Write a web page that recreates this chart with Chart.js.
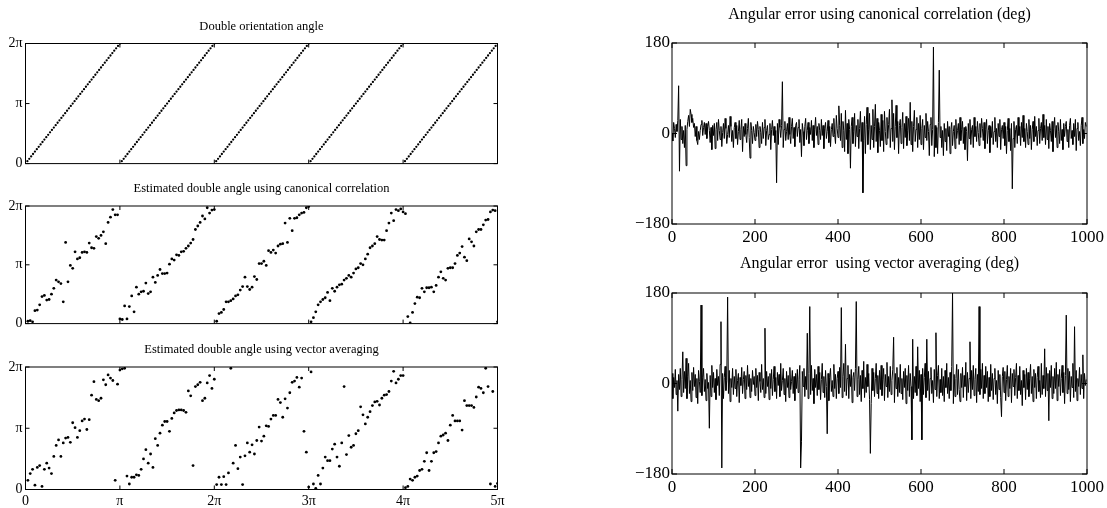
<!DOCTYPE html>
<html>
<head>
<meta charset="utf-8">
<script src="https://cdn.jsdelivr.net/npm/chart.js@4.4.1/dist/chart.umd.min.js"></script>
<style>
  body { margin: 0; background: #fff; }
  canvas { position: absolute; }
</style>
</head>
<body>
<canvas id="p1" width="510" height="175" style="left:0;top:0"></canvas>
<canvas id="p2" width="510" height="160" style="left:0;top:175px"></canvas>
<canvas id="p3" width="510" height="173" style="left:0;top:335px"></canvas>
<canvas id="p4" width="507" height="250" style="left:600px;top:0"></canvas>
<canvas id="p5" width="507" height="258" style="left:600px;top:250px"></canvas>
<script>
// angles are in units of pi, one sample every pi/50 (true) or pi/40 (estimates)
const trueAngle = [
  .04,.08,.12,.16,.2,.24,.28,.32,.36,.4,.44,.48,.52,.56,.6,.64,.68,.72,.76,.8,.84,.88,.92,.96,1,1.04,1.08,1.12,1.16,1.2,1.24,1.28,1.32,1.36,1.4,1.44,1.48,1.52,1.56,1.6,1.64,1.68,1.72,1.76,1.8,1.84,1.88,1.92,1.96,2,
  .04,.08,.12,.16,.2,.24,.28,.32,.36,.4,.44,.48,.52,.56,.6,.64,.68,.72,.76,.8,.84,.88,.92,.96,1,1.04,1.08,1.12,1.16,1.2,1.24,1.28,1.32,1.36,1.4,1.44,1.48,1.52,1.56,1.6,1.64,1.68,1.72,1.76,1.8,1.84,1.88,1.92,1.96,2,
  .04,.08,.12,.16,.2,.24,.28,.32,.36,.4,.44,.48,.52,.56,.6,.64,.68,.72,.76,.8,.84,.88,.92,.96,1,1.04,1.08,1.12,1.16,1.2,1.24,1.28,1.32,1.36,1.4,1.44,1.48,1.52,1.56,1.6,1.64,1.68,1.72,1.76,1.8,1.84,1.88,1.92,1.96,2,
  .04,.08,.12,.16,.2,.24,.28,.32,.36,.4,.44,.48,.52,.56,.6,.64,.68,.72,.76,.8,.84,.88,.92,.96,1,1.04,1.08,1.12,1.16,1.2,1.24,1.28,1.32,1.36,1.4,1.44,1.48,1.52,1.56,1.6,1.64,1.68,1.72,1.76,1.8,1.84,1.88,1.92,1.96,2,
  .04,.08,.12,.16,.2,.24,.28,.32,.36,.4,.44,.48,.52,.56,.6,.64,.68,.72,.76,.8,.84,.88,.92,.96,1,1.04,1.08,1.12,1.16,1.2,1.24,1.28,1.32,1.36,1.4,1.44,1.48,1.52,1.56,1.6,1.64,1.68,1.72,1.76,1.8,1.84,1.88,1.92,1.96,2
];
const canonAngle = [
  .04,.05,.03,.22,.23,.32,.46,.48,.40,.41,.50,.60,.74,.71,.68,.37,1.38,.71,.99,.94,1.22,1.10,1.12,1.21,1.22,1.21,1.37,1.29,1.28,1.48,1.45,1.50,1.56,1.36,1.72,1.81,1.94,1.85,1.85,.08,
  .07,.30,.08,.29,.47,.20,.62,.50,.54,.55,.69,.51,.54,.79,.70,.82,.92,.85,.85,.86,1.01,1.10,1.08,1.17,1.16,1.22,1.23,1.28,1.32,1.37,1.43,1.60,1.66,1.72,1.83,1.78,1.97,1.88,1.93,1.94,
  .04,.17,.19,.24,.37,.37,.39,.42,.47,.49,.57,.63,.79,.63,.58,.62,.80,.75,1.02,1.02,1.06,.99,1.24,1.21,1.25,1.20,1.32,1.35,1.36,1.71,1.38,1.79,1.58,1.79,1.80,1.85,1.88,1.89,1.97,1.99,
  .03,.10,.20,.32,.37,.41,.44,.53,.39,.60,.55,.62,.66,.67,.74,.77,.82,.79,.86,.93,.95,1.02,1.00,1.10,1.18,1.29,1.32,1.36,1.48,1.43,1.42,1.42,1.58,1.71,1.88,1.75,1.94,1.92,1.95,1.90,
  1.87,.12,.01,.19,.34,.45,.44,.60,.54,.61,.61,.62,.54,.65,.79,.88,.77,.74,.94,.95,.95,1.02,1.16,1.20,1.31,1.13,1.07,1.44,1.39,1.32,1.56,1.60,1.60,1.68,1.76,1.77,1.90,1.93,1.92,.03
];
const vectorAngle = [
  .15,.26,.33,.07,.36,.39,.05,.33,.43,.35,.26,.54,.72,.81,.54,.76,.84,.85,.77,1.09,1.01,.85,.96,1.12,1.15,.98,1.14,1.54,1.76,1.47,1.45,1.49,1.79,1.71,1.87,1.82,1.78,.15,1.72,1.95,
  1.97,1.98,.22,.09,.20,.20,.24,.23,.33,.50,.65,.43,.58,.36,.83,.72,.92,1.05,1.11,1.11,.95,1.16,1.25,1.29,1.30,1.30,1.29,1.26,1.61,1.53,.39,1.68,1.71,1.75,1.45,1.49,1.74,1.86,1.65,1.80,
  .08,.20,.08,.21,.08,.27,1.98,.43,.72,.34,.53,.08,.55,.76,.61,.73,.58,.80,1.02,.79,.87,1.04,1.03,1.15,1.21,1.21,1.47,1.42,1.18,1.48,1.33,1.58,1.75,1.77,1.83,1.67,1.82,.95,.61,.04,
  1.92,.09,.02,.23,.09,.35,.53,.47,.47,.66,.74,.53,.38,.76,1.68,.57,.88,.69,.72,.91,.96,1.35,1.22,1.07,1.18,1.27,1.37,1.43,1.44,1.38,1.49,1.54,1.55,1.60,1.77,1.93,1.74,1.80,1.86,1.86,
  .03,.05,.17,.15,.20,.22,.31,.33,.46,.60,.31,.46,.60,.62,.76,.87,.89,.92,.80,1.05,1.21,1.12,1.12,1.12,.97,1.45,1.37,1.37,1.37,1.34,1.51,1.67,1.65,1.58,1.98,1.68,.09,1.60,.05,.10
];
const piTickLabels = ['0', 'π', '2π', '3π', '4π', '5π'];

// angular error in degrees, one sample every 2 steps
const errStep = 2;
const canonError = [
  0,-15,22,10,-8,18,4,26,95,-75,28,-12,14,-20,6,-28,16,-64,8,24,36,14,48,38,22,
  30,12,20,-6,14,-14,-22,4,-12,6,18,26,-4,12,22,-2,20,-10,14,24,6,-18,12,-32,16,
  -4,20,-30,8,22,-14,28,6,-12,14,-26,2,20,-10,30,10,-20,-2,16,-8,34,14,-16,6,-28,
  12,22,-10,16,-22,4,26,-12,8,28,-36,14,-6,20,-2,-18,10,30,-8,-49,22,6,-20,14,2,
  -14,18,-6,24,8,-28,14,2,-20,22,-10,12,28,-24,6,16,-12,-2,20,-32,8,26,-4,14,-18,
  6,-98,20,-22,28,12,-8,16,103,-28,8,24,-14,4,20,-12,32,-2,-20,14,30,-10,12,-26,16,
  22,-6,12,28,-18,8,-46,20,4,-24,14,30,-12,6,22,-20,12,-2,26,-14,16,-28,8,32,-4,
  14,-22,20,6,-12,28,-4,16,-30,10,22,-10,4,26,-18,14,-26,8,20,-6,30,-2,-20,36,10,
  -8,55,16,-14,40,-28,24,6,-36,46,-12,20,-40,28,8,-69,14,32,-20,4,40,-26,16,-6,28,
  -30,10,44,-16,22,-118,-14,34,-40,18,52,-22,8,40,-32,16,-12,48,-28,14,58,-16,30,-38,22,
  6,-26,38,-14,26,-36,44,4,-22,32,-10,18,48,-28,10,67,-16,40,-32,14,56,-8,24,-40,16,
  28,-20,12,42,-30,20,-8,34,-24,6,30,-14,62,-22,24,-36,14,46,-16,8,32,-28,20,-12,36,
  -22,10,28,-32,16,-8,40,-14,24,4,-44,18,32,-24,8,172,-46,16,-28,12,-40,22,126,-8,14,
  -28,6,-44,20,-16,10,-34,24,-6,14,-40,8,22,-24,4,16,-30,28,-10,6,20,-22,32,-14,8,
  24,-20,12,-32,14,4,-54,20,-10,28,-22,8,16,-28,32,-6,14,-16,24,2,-24,20,-8,30,10,
  -14,22,-30,8,28,-20,6,16,-38,14,-8,24,-22,4,32,-16,10,-28,20,-6,28,-32,8,16,-10,
  22,-24,14,-40,6,30,-16,10,-34,20,-110,-10,24,-28,8,16,-20,32,-4,14,-24,22,-8,36,-16,
  10,-28,20,4,-22,28,-10,16,-32,8,24,-16,34,-6,14,-24,6,30,-20,10,22,-14,38,-8,16,
  -22,28,-12,14,-30,20,6,-16,24,-36,10,32,-8,16,-28,22,4,-20,28,-14,8,-32,20,-6,14,
  24,-16,8,-28,16,30,-10,6,-22,20,-6,28,-34,10,22,-14,4,-24,16,32,-20,8,-10,22,14
];
const vectorError = [
  20,-30,12,-8,28,-22,6,-55,18,-12,30,-26,8,63,-18,24,-10,50,-30,14,40,-20,6,-36,22,
  -14,32,-6,18,-28,10,-40,26,4,-18,156,-24,12,30,-16,8,-34,20,-10,2,-89,16,-26,36,-8,
  22,-18,10,-32,28,-4,14,-24,38,123,-168,20,-30,12,34,-14,6,172,-20,26,-36,10,-8,30,-22,
  14,-10,28,-26,6,20,-38,12,-4,32,-20,8,24,-30,16,-12,36,-6,18,-28,10,-16,26,-2,14,
  -24,30,-8,16,-34,22,4,-18,38,-12,10,-28,110,-20,24,-6,14,-32,20,-10,28,-24,8,34,-16,
  12,-30,22,-4,18,-26,40,-14,6,30,-22,10,-36,24,-8,16,-28,32,-12,4,26,-20,14,-34,20,
  -10,28,-18,8,36,-168,-116,24,-6,30,-26,14,-12,100,-30,20,153,-22,36,-14,10,-40,28,-8,18,
  -24,34,-12,22,-32,8,40,-18,14,-28,26,-6,-100,20,-34,12,30,-16,6,-26,38,-10,18,-30,10,
  24,-20,32,-8,151,-28,14,40,-16,78,-24,10,36,-30,18,-6,28,-38,12,22,-14,30,163,-26,8,
  34,-22,16,-36,26,-10,44,-28,12,-18,38,-6,20,-32,-139,-40,30,-14,22,-26,10,40,-20,16,-30,
  26,-12,36,-24,8,30,-34,18,-6,42,-28,14,-16,34,-22,6,28,92,-38,20,-10,32,-26,12,-18,
  38,-20,10,-32,24,-8,30,-40,16,-14,36,-26,20,-6,-112,88,-30,14,-18,34,-24,73,-10,26,-36,
  18,-112,30,-22,12,40,-28,88,-14,24,-34,10,32,-20,6,-38,28,-12,101,-26,16,36,-30,8,-18,
  30,-24,14,-36,26,-8,40,-20,12,-30,22,-14,34,180,-40,18,-26,10,38,-22,28,-12,-36,20,-8,
  32,-28,16,-6,42,-34,22,-18,10,83,-30,26,-12,36,-24,8,30,-38,18,-16,153,-22,28,-10,40,
  -30,16,-20,34,-8,24,-36,12,-26,38,-14,20,-32,10,30,-22,6,-40,26,-12,18,-28,-66,14,32,
  -18,24,-34,8,36,-26,14,-10,30,-38,20,-6,28,-24,12,40,-30,16,-14,34,-22,6,-44,26,-8,
  18,-32,30,-12,22,-26,10,38,-20,14,-36,28,-8,20,-30,12,34,-16,6,-28,40,-22,16,-10,69,
  -26,32,-14,20,-74,26,-8,36,-30,14,-20,30,-10,42,-34,18,-6,28,-24,10,36,-18,22,-40,16,
  136,-20,30,-12,24,-36,14,-8,40,-28,113,-16,26,-34,10,-6,32,-22,18,-10,57,-30,20,-4,8
];

const serif = 'Liberation Serif, Times New Roman, serif';

// box round the plot area, inward tick marks on all four sides, and the title
const framePlugin = {
  id: 'frame',
  afterDraw(chart, args, opts) {
    const { ctx, chartArea: a, scales: { x, y } } = chart;
    ctx.save();
    ctx.strokeStyle = '#000';
    ctx.lineWidth = 1;
    ctx.strokeRect(a.left, a.top, a.width, a.height);
    ctx.beginPath();
    x.ticks.forEach(t => {
      const px = x.getPixelForValue(t.value);
      ctx.moveTo(px, a.bottom); ctx.lineTo(px, a.bottom - opts.tick);
      ctx.moveTo(px, a.top); ctx.lineTo(px, a.top + opts.tick);
    });
    y.ticks.forEach(t => {
      const py = y.getPixelForValue(t.value);
      ctx.moveTo(a.left, py); ctx.lineTo(a.left + opts.tick, py);
      ctx.moveTo(a.right, py); ctx.lineTo(a.right - opts.tick, py);
    });
    ctx.stroke();
    ctx.fillStyle = '#000';
    ctx.font = opts.titleSize + 'px ' + serif;
    ctx.textAlign = 'center';
    ctx.textBaseline = 'middle';
    ctx.fillText(opts.title, (a.left + a.right) / 2, opts.titleY);
    ctx.restore();
  }
};

function makeChart(id, cfg) {
  const canvas = document.getElementById(id);
  const W = canvas.width, H = canvas.height;
  return new Chart(canvas, {
    type: cfg.type,
    data: { datasets: [cfg.dataset] },
    plugins: [framePlugin],
    options: {
      responsive: false,
      animation: false,
      events: [],
      layout: { padding: { left: 0, top: cfg.area.top, right: W - cfg.area.right, bottom: 0 } },
      plugins: {
        legend: { display: false },
        tooltip: { enabled: false },
        frame: { title: cfg.title, titleY: cfg.titleY, titleSize: cfg.titleSize, tick: cfg.tick }
      },
      scales: {
        x: {
          type: 'linear',
          min: cfg.x.min, max: cfg.x.max,
          grid: { display: false, drawTicks: false },
          border: { display: false },
          ticks: {
            display: cfg.x.labels,
            stepSize: cfg.x.step,
            padding: 3,
            color: '#000',
            maxRotation: 0,
            autoSkip: false,
            font: { family: serif, size: cfg.tickSize },
            callback: cfg.x.fmt
          },
          afterFit: s => { s.height = H - cfg.area.bottom; }
        },
        y: {
          min: cfg.y.min, max: cfg.y.max,
          grid: { display: false, drawTicks: false },
          border: { display: false },
          ticks: {
            stepSize: cfg.y.step,
            padding: cfg.y.pad,
            color: '#000',
            autoSkip: false,
            font: { family: serif, size: cfg.tickSize },
            callback: cfg.y.fmt
          },
          afterFit: s => { s.width = cfg.area.left; }
        }
      }
    }
  });
}

function dotSet(values, perPi, radius) {
  return {
    data: values.map((v, k) => ({ x: (k + 1) / perPi, y: v })),
    pointRadius: radius,
    pointBackgroundColor: '#000',
    pointBorderWidth: 0,
    showLine: false
  };
}

function lineSet(values) {
  return {
    data: values.map((v, k) => ({ x: k * errStep, y: v })),
    borderColor: '#000',
    borderWidth: 1,
    pointRadius: 0,
    tension: 0
  };
}

const piX = (show) => ({ min: 0, max: 5, step: 1, labels: show, fmt: v => piTickLabels[v] });
const angleY = { min: 0, max: 2, step: 1, pad: 3, fmt: v => piTickLabels[v] };
const degX = { min: 0, max: 1000, step: 200, labels: true, fmt: v => String(v) };
const degY = { min: -180, max: 180, step: 180, pad: 2, fmt: v => (v < 0 ? '\u2212' + (-v) : String(v)) };

makeChart('p1', {
  type: 'scatter', dataset: dotSet(trueAngle, 50, 1.15),
  area: { left: 25.5, right: 497.5, top: 43.5, bottom: 164.5 },
  title: 'Double orientation angle', titleY: 27, titleSize: 12.5, tickSize: 14, tick: 4,
  x: piX(false), y: angleY
});
makeChart('p2', {
  type: 'scatter', dataset: dotSet(canonAngle, 40, 1.4),
  area: { left: 25.5, right: 497.5, top: 31, bottom: 152 },
  title: 'Estimated double angle using canonical correlation', titleY: 14, titleSize: 12.5, tickSize: 14, tick: 4,
  x: piX(false), y: angleY
});
makeChart('p3', {
  type: 'scatter', dataset: dotSet(vectorAngle, 40, 1.4),
  area: { left: 25.5, right: 497.5, top: 32, bottom: 154.5 },
  title: 'Estimated double angle using vector averaging', titleY: 15, titleSize: 12.5, tickSize: 14, tick: 4,
  x: piX(true), y: angleY
});
makeChart('p4', {
  type: 'line', dataset: lineSet(canonError),
  area: { left: 72, right: 489.5, top: 43, bottom: 224 },
  title: 'Angular error using canonical correlation (deg)', titleY: 15, titleSize: 16, tickSize: 17, tick: 5,
  x: degX, y: degY
});
makeChart('p5', {
  type: 'line', dataset: lineSet(vectorError),
  area: { left: 72, right: 489.5, top: 43, bottom: 224 },
  title: 'Angular error  using vector averaging (deg)', titleY: 14, titleSize: 16, tickSize: 17, tick: 5,
  x: degX, y: degY
});
</script>
</body>
</html>
